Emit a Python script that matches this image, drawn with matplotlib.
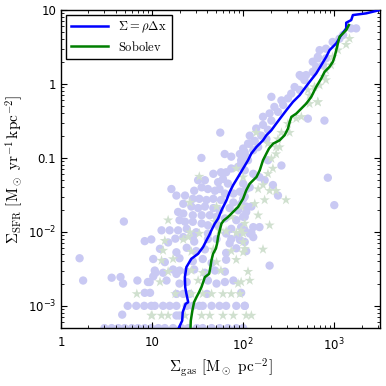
import numpy as np
import matplotlib
matplotlib.use("Agg")
import matplotlib.pyplot as plt

plt.rcParams['mathtext.fontset'] = 'cm'
plt.rcParams['font.family'] = 'DejaVu Sans'

# --- curves ---
blue_gas = [19.6, 21.4, 21.7, 23.3, 24.9, 23.8, 23.1, 22.9, 23.8, 27.0, 32.0, 36.3, 39.5, 42.3,
            44.8, 48.7, 53.0, 57.7, 65.5, 71.2, 77.4, 87.9, 99.7, 113, 123, 140, 165, 180, 204,
            231, 262, 298, 352, 417, 472, 536, 634, 720, 816, 888, 1051, 1192, 1352, 1352, 1535,
            1600, 2240, 3165]
blue_sfr = [5.0e-4, 6.3e-4, 8.2e-4, 1.06e-3, 1.12e-3, 1.46e-3, 1.79e-3, 2.44e-3, 3.34e-3, 4.33e-3,
            5.06e-3, 6.24e-3, 7.67e-3, 8.97e-3, 1.05e-2, 1.29e-2, 1.51e-2, 1.95e-2, 2.67e-2, 3.47e-2,
            4.27e-2, 5.53e-2, 7.18e-2, 9.3e-2, 0.115, 0.141, 0.173, 0.203, 0.237, 0.292, 0.359,
            0.442, 0.573, 0.706, 0.869, 1.07, 1.39, 1.80, 2.33, 2.87, 3.54, 4.59, 5.65, 6.73, 7.32,
            8.55, 9.02, 10.0]

green_gas = [26.4, 26.6, 27.7, 28.9, 30.7, 32.8, 34.8, 36.9, 37.9, 42.3, 43.7, 44.8, 46.7, 50.0,
             51.7, 53.0, 55.3, 57.7, 61.2, 68.2, 77.4, 87.9, 99.7, 108, 118, 140, 152, 165, 180,
             192, 213, 251, 285, 310, 324, 338, 383, 435, 493, 559, 634, 720, 783, 888, 966,
             1007, 1051, 1096, 1143, 1245, 1352, 1446]
green_sfr = [5.0e-4, 6.3e-4, 8.65e-4, 1.12e-3, 1.31e-3, 1.53e-3, 1.79e-3, 2.20e-3, 2.44e-3, 2.71e-3,
             3.34e-3, 4.11e-3, 5.06e-3, 5.91e-3, 6.92e-3, 8.51e-3, 1.05e-2, 1.29e-2, 1.43e-2,
             1.59e-2, 1.86e-2, 2.17e-2, 2.81e-2, 3.65e-2, 4.49e-2, 5.53e-2, 6.81e-2, 9.3e-2, 0.115,
             0.134, 0.156, 0.173, 0.203, 0.249, 0.307, 0.359, 0.398, 0.466, 0.544, 0.670, 0.916,
             1.19, 1.46, 1.71, 2.00, 2.33, 2.87, 3.54, 4.36, 4.83, 5.36, 6.27]

# --- scatter: circles (rho dx) ---
circ_gas = [
    8.3, 1.6, 1.75, 3.6, 4.5, 4.8, 6.9, 9.0, 10.3, 10.9, 8.3, 9.5, 5.4, 6.7, 8.2, 9.8, 10.7, 4.7, 4.9,
    3.0, 3.6, 4.25, 5.0, 6.0, 7.0, 8.3, 9.8, 11.7, 13.8, 17, 21, 25, 31, 36, 45, 55, 68, 84, 100,
    9.8, 15, 18, 29, 71, 92,
    12.2, 18.5, 24, 30.5, 38, 65, 84, 108,
    10.3, 13.8, 20, 28, 36, 45, 65,
    10.7, 13.2, 17, 18.5, 20, 24, 29, 38, 49, 63,
    9.4, 14.4, 20, 24, 41, 51, 63, 78,
    18.5, 22, 26, 40,
    13.2, 15.6, 18.5, 24, 28, 33, 36, 45, 55, 65, 84, 104,
    18.5, 20,
    34.8, 62.7, 74, 92, 104, 95, 113, 88, 74, 65, 57, 47, 60, 53, 68, 38, 32, 35, 29, 41, 49, 55,
    63, 78, 92, 108, 16.3, 18.5, 23, 28, 33, 39.5, 47, 57, 78, 100, 22, 27, 32, 38, 47, 55, 71,
    88, 108, 19.3, 22, 28, 35, 43, 51, 63, 84, 104, 20, 23, 28, 35, 41, 53, 74, 95, 12.7, 15.6,
    19.3, 24, 30.5, 41, 65, 88, 104, 22, 28, 41, 51, 74,
    118, 129, 108, 95, 104, 129, 151, 172, 212, 241, 263, 187, 850, 1000, 100, 118, 104, 95, 123,
    108, 100, 129, 118, 151,
    660, 810, 750, 635, 580, 417, 470, 367, 417, 337, 310, 263, 204, 275, 220, 241, 195, 165, 204,
    513, 780, 165, 187, 139, 158, 118, 134, 113, 100, 146, 180,
    1740, 1530, 1250, 1140, 960, 810, 690, 660, 580, 490, 435,
    123, 129, 104, 195, 95, 104,
    56,
]
circ_sfr = [
    7.5e-3, 4.4e-3, 2.2e-3, 2.4e-3, 2.45e-3, 2.0e-3, 2.2e-3, 2.1e-3, 2.5e-3, 2.8e-3, 1.5e-3, 1.5e-3,
    1.0e-3, 1.0e-3, 1.0e-3, 1.0e-3, 1.0e-3, 7.6e-4, 0.0138,
    5e-4, 5e-4, 5e-4, 5e-4, 5e-4, 5e-4, 5e-4, 5e-4, 5e-4, 5e-4, 5e-4, 5e-4, 5e-4, 5e-4, 5e-4, 5e-4,
    5e-4, 5e-4, 5e-4, 5e-4,
    7.9e-3, 7.2e-3, 8.1e-3, 7.4e-3, 7.0e-3, 7.8e-3,
    5.9e-3, 5.3e-3, 6.1e-3, 5.5e-3, 5.8e-3, 5.2e-3, 6.0e-3, 5.5e-3,
    4.3e-3, 3.9e-3, 4.4e-3, 4.0e-3, 4.3e-3, 3.8e-3, 4.2e-3,
    3.0e-3, 2.8e-3, 3.1e-3, 2.7e-3, 3.0e-3, 2.9e-3, 3.1e-3, 2.8e-3, 3.0e-3, 2.9e-3,
    2.1e-3, 2.2e-3, 2.0e-3, 2.1e-3, 2.2e-3, 2.0e-3, 2.1e-3, 2.2e-3,
    1.45e-3, 1.45e-3, 1.45e-3, 1.45e-3,
    1.0e-3, 1.0e-3, 1.0e-3, 1.0e-3, 1.0e-3, 1.0e-3, 1.0e-3, 1.0e-3, 1.0e-3, 1.0e-3, 1.0e-3, 1.0e-3,
    7.4e-4, 7.4e-4,
    0.1, 0.113, 0.104, 0.113, 0.12, 0.093, 0.093, 0.076, 0.072, 0.064, 0.064, 0.061, 0.052, 0.047,
    0.045, 0.05, 0.05, 0.040, 0.036, 0.038, 0.036, 0.038, 0.033, 0.033, 0.035, 0.038, 0.038, 0.031,
    0.031, 0.028, 0.028, 0.027, 0.028, 0.027, 0.025, 0.028, 0.024, 0.022, 0.021, 0.022, 0.021,
    0.0196, 0.021, 0.0196, 0.022, 0.0186, 0.0177, 0.0168, 0.0168, 0.0168, 0.016, 0.0152, 0.0144,
    0.016, 0.0144, 0.0137, 0.0137, 0.013, 0.0123, 0.0123, 0.011, 0.0116, 0.0105, 0.0105, 0.0105,
    0.011, 0.0099, 0.0095, 0.0095, 0.009, 0.0105, 0.0085, 0.0085, 0.008, 0.008, 0.008,
    0.156, 0.127, 0.104, 0.083, 0.068, 0.061, 0.055, 0.050, 0.043, 0.031, 0.079, 0.093, 0.054,
    0.023, 0.045, 0.040, 0.030, 0.024, 0.022, 0.0186, 0.016, 0.0116, 0.0095, 0.0116,
    2.33, 2.22, 1.8, 1.7, 1.46, 1.32, 1.13, 0.91, 0.83, 0.74, 0.64, 0.60, 0.67, 0.52, 0.49, 0.42,
    0.40, 0.36, 0.32, 0.34, 0.32, 0.28, 0.24, 0.25, 0.2, 0.2, 0.17, 0.156, 0.134, 0.14, 0.18,
    5.65, 5.65, 4.6, 4.1, 3.7, 3.0, 2.87, 2.22, 2.0, 1.32, 1.26,
    0.0097, 0.0085, 0.0073, 0.0035, 0.0015, 0.001,
    0.22,
]

# --- scatter: stars (Sobolev) ---
star_gas = [
    6.8, 10,
    26, 33, 65, 84,
    13.8, 22, 100,
    13.2, 27, 47, 74,
    12.7, 17, 51, 84,
    15, 27, 36, 57,
    12.2, 32, 88,
    18, 27, 36, 45, 60, 74, 92,
    9.8, 12.7, 15, 23, 35, 43, 60, 78,
    33, 15, 26, 51, 74, 84, 100, 55, 25, 95, 49,
    251, 230, 204, 212, 187, 165, 146, 195, 230, 295, 172, 134, 146, 195, 104, 95,
    660, 605, 513, 810, 435, 383, 310, 263, 323, 241, 187, 230, 139, 535,
    1470, 1350, 1100, 960, 920, 810, 780, 690, 660, 535,
    100, 104, 165, 100, 113, 118, 95, 108, 123,
]
star_sfr = [
    1.45e-3, 7.4e-4,
    0.0099, 0.0095, 0.0102, 0.0097,
    7.6e-3, 7.9e-3, 7.3e-3,
    5.6e-3, 5.4e-3, 5.8e-3, 5.5e-3,
    4.1e-3, 4.3e-3, 3.9e-3, 4.2e-3,
    2.9e-3, 3.0e-3, 2.8e-3, 3.0e-3,
    2.1e-3, 2.2e-3, 2.0e-3,
    1.45e-3, 1.45e-3, 1.45e-3, 1.45e-3, 1.45e-3, 1.45e-3, 1.45e-3,
    7.4e-4, 7.4e-4, 7.4e-4, 7.4e-4, 7.4e-4, 7.4e-4, 7.4e-4, 7.4e-4,
    0.056, 0.0144, 0.025, 0.022, 0.016, 0.072, 0.055, 0.0105, 0.0085, 0.022, 0.0137,
    0.14, 0.113, 0.098, 0.072, 0.061, 0.043, 0.038, 0.036, 0.036, 0.027, 0.027, 0.024, 0.0168,
    0.0123, 0.013, 0.0105,
    0.57, 0.91, 0.83, 1.13, 0.36, 0.34, 0.29, 0.22, 0.22, 0.18, 0.156, 0.14, 0.22, 0.54,
    4.1, 3.4, 2.87, 2.33, 1.8, 1.54, 1.26, 0.96, 0.57, 0.7,
    0.0095, 0.0059, 0.0058, 0.0053, 0.0029, 0.0022, 0.0021, 7.4e-4, 7.4e-4,
]

x_ticks = [1, 10, 100, 1000]
x_ticklabels = ['1', '10', r'$\mathregular{10^{2}}$', r'$\mathregular{10^{3}}$']
y_ticks = [1e-3, 1e-2, 0.1, 1, 10]
y_ticklabels = [r'$\mathregular{10^{-3}}$', r'$\mathregular{10^{-2}}$', '0.1', '1', '10']

fig = plt.figure(figsize=(3.86, 3.86), dpi=100)
ax = fig.add_axes([0.158, 0.150, 0.826, 0.824])

ax.scatter(circ_gas, circ_sfr, s=36, marker='o', color='#c9c9f3', edgecolors='none', zorder=1)
ax.scatter(star_gas, star_sfr, s=60, marker='*', color='#d0e0cf', edgecolors='none', zorder=2)
ax.plot(blue_gas, blue_sfr, color='#0000ff', lw=1.8, zorder=3, label=r'$\Sigma = \rho \Delta {\rm x}$')
ax.plot(green_gas, green_sfr, color='#007f00', lw=1.8, zorder=3, label=r'$\rm Sobolev$')

ax.set_xscale('log')
ax.set_yscale('log')
ax.set_xlim(1, 3162)
ax.set_ylim(5e-4, 10)
ax.set_xticks(x_ticks)
ax.set_xticklabels(x_ticklabels)
ax.set_yticks(y_ticks)
ax.set_yticklabels(y_ticklabels)
ax.tick_params(which='both', direction='in', top=True, right=True, labelsize=8.5)
ax.tick_params(which='major', length=4.5, width=0.8)
ax.tick_params(which='minor', length=2.2, width=0.6)
ax.tick_params(axis='x', pad=6)
for sp in ax.spines.values():
    sp.set_linewidth(1.0)

ax.set_xlabel(r'$\Sigma_{\rm gas}\ [{\rm M_\odot\ pc^{-2}}]$', fontsize=11, labelpad=2)
ax.set_ylabel(r'$\Sigma_{\rm SFR}\ [{\rm M_\odot\ yr^{-1}\,kpc^{-2}}]$', fontsize=11, labelpad=2)

leg = ax.legend(loc='upper left', fontsize=9, fancybox=False, framealpha=1,
                edgecolor='black', handlelength=3.0, borderpad=0.4, labelspacing=0.35,
                handletextpad=0.8, borderaxespad=0.4)
leg.get_frame().set_linewidth(1.0)

fig.savefig('out.png', dpi=100)
